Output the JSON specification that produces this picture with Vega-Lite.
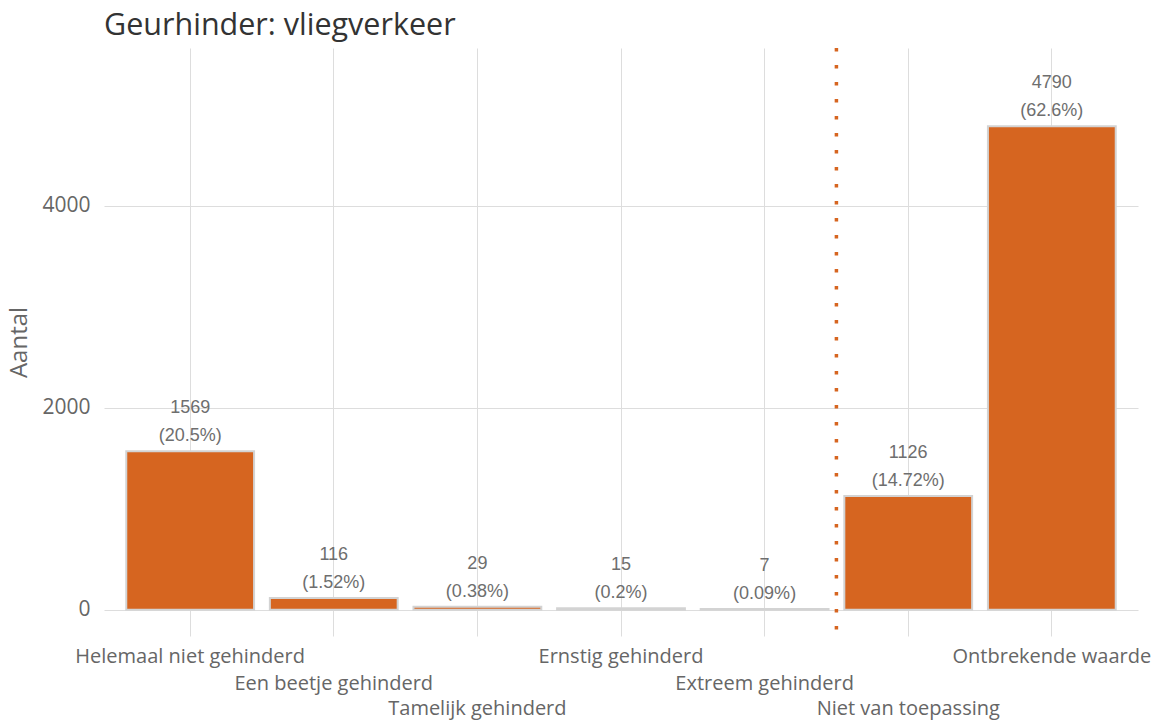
{
  "$schema": "https://vega.github.io/schema/vega-lite/v6.json",
  "width": 1034,
  "height": 588,
  "autosize": {"type": "none"},
  "padding": {"left": 104, "top": 48, "right": 16, "bottom": 84},
  "background": "white",
  "title": {"text": "Geurhinder: vliegverkeer", "anchor": "start", "frame": "group", "font": "Open Sans", "fontSize": 30.5, "fontWeight": "normal", "color": "#333333", "offset": 5},
  "config": {"view": {"stroke": null}},
  "data": {"values": [
    {"categorie": "Helemaal niet gehinderd", "aantal": 1569, "pct": "(20.5%)"},
    {"categorie": "Een beetje gehinderd", "aantal": 116, "pct": "(1.52%)"},
    {"categorie": "Tamelijk gehinderd", "aantal": 29, "pct": "(0.38%)"},
    {"categorie": "Ernstig gehinderd", "aantal": 15, "pct": "(0.2%)"},
    {"categorie": "Extreem gehinderd", "aantal": 7, "pct": "(0.09%)"},
    {"categorie": "Niet van toepassing", "aantal": 1126, "pct": "(14.72%)"},
    {"categorie": "Ontbrekende waarde", "aantal": 4790, "pct": "(62.6%)"}
  ]},
  "encoding": {
    "x": {"field": "categorie", "type": "nominal", "sort": null,
      "scale": {"paddingInner": 0, "paddingOuter": 0.1},
      "axis": {"title": null, "ticks": false, "domain": false, "labelAngle": 0, "grid": true, "tickBand": "center",
        "gridColor": "#dddddd", "gridWidth": 1, "labelFont": "Open Sans", "labelFontSize": 20, "labelColor": "#666666",
        "labelOverlap": false, "labelLimit": 0,
        "labelPadding": {"condition": [
          {"test": "datum.value == 'Een beetje gehinderd' || datum.value == 'Extreem gehinderd'", "value": 37},
          {"test": "datum.value == 'Tamelijk gehinderd' || datum.value == 'Niet van toepassing'", "value": 62}
        ], "value": 10}}
    }
  },
  "layer": [
    {
      "mark": {"type": "bar", "fill": "#D66520", "stroke": "#d3d3d3", "strokeWidth": 2, "width": {"band": 0.89}},
      "encoding": {
        "y": {"field": "aantal", "type": "quantitative",
          "scale": {"domain": [-260, 5565], "nice": false, "zero": false},
          "axis": {"title": "Aantal", "values": [0, 2000, 4000], "format": "d", "ticks": false, "domain": false, "grid": true, "gridColor": "#dddddd",
            "labelFont": "Open Sans", "labelFontSize": 21, "labelColor": "#666666", "labelPadding": 14,
            "titleFont": "Open Sans", "titleFontSize": 24, "titleFontWeight": "normal", "titleColor": "#666666", "titlePadding": 10}
        }
      }
    },
    {
      "mark": {"type": "text", "baseline": "bottom", "align": "center", "dy": -34, "font": "Liberation Sans", "fontSize": 18, "color": "#6e6e6e"},
      "encoding": {
        "y": {"field": "aantal", "type": "quantitative"},
        "text": {"field": "aantal", "type": "quantitative", "format": "d"}
      }
    },
    {
      "mark": {"type": "text", "baseline": "bottom", "align": "center", "dy": -6, "font": "Liberation Sans", "fontSize": 18, "color": "#6e6e6e"},
      "encoding": {
        "y": {"field": "aantal", "type": "quantitative"},
        "text": {"field": "pct"}
      }
    },
    {
      "data": {"values": [{"categorie": "Niet van toepassing"}]},
      "mark": {"type": "rule", "color": "#D66520", "strokeWidth": 3.5, "strokeDash": [3.5, 13.5]},
      "encoding": {
        "x": {"field": "categorie", "type": "nominal", "bandPosition": 0}
      }
    }
  ]
}
